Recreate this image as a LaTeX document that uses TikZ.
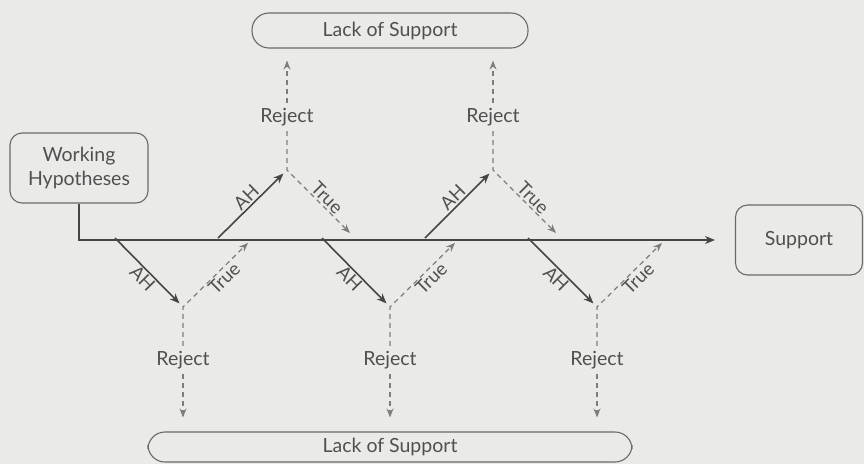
\documentclass[tikz,border=0pt]{standalone}
\usepackage{fontspec}
\setmainfont{Lato}
\usetikzlibrary{arrows.meta}
\definecolor{bg}{RGB}{234,234,232}
\definecolor{txt}{RGB}{80,80,80}
\definecolor{edge}{RGB}{105,105,105}
\definecolor{dark}{RGB}{70,70,70}
\definecolor{dashc}{RGB}{125,125,125}
\begin{document}
\begin{tikzpicture}[x=1pt,y=-1pt,
  font=\fontsize{19.5}{24}\selectfont, text=txt,
  box/.style={draw=edge, line width=1.1pt, rounded corners=12pt, align=center, inner sep=0pt},
  pill/.style={draw=edge, line width=1.1pt, rounded corners=17pt, inner sep=0pt},
  solidarrow/.style={draw=dark, line width=1.6pt, -{Stealth[length=10pt,width=8pt]}},
  dashline/.style={draw=dashc, line width=1.2pt, dash pattern=on 5pt off 4pt},
  dasharrow/.style={dashline, -{Stealth[length=9pt,width=7pt]}},
  lab/.style={font=\fontsize{18.5}{20}\selectfont, sloped, midway, inner sep=1.5pt},
  rej/.style={inner sep=5pt}]
\fill[bg] (0,0) rectangle (864,464);
\useasboundingbox (0,0) rectangle (864,464);

\node[box, minimum width=138pt, minimum height=70pt] (wh) at (79,168) {Working\\Hypotheses};
\node[box, minimum width=127pt, minimum height=70pt] (sup) at (799,240) {Support};
\node[pill, minimum width=276pt, minimum height=35pt] (lt) at (390,30.5) {Lack of Support};
\node[pill, minimum width=484pt, minimum height=30pt] (lb) at (390,447) {Lack of Support};

\draw[solidarrow, shorten >=20pt] (wh.south) |- (sup.west);

% top branches
\coordinate (u1) at (218,238); \coordinate (ta1) at (287,170); \coordinate (te1) at (355,238);
\coordinate (u2) at (425,238); \coordinate (ta2) at (493,170); \coordinate (te2) at (561,238);
% bottom branches
\coordinate (d1) at (115,238); \coordinate (ba1) at (183,307); \coordinate (be1) at (253,238);
\coordinate (d2) at (322,238); \coordinate (ba2) at (390,307); \coordinate (be2) at (460,238);
\coordinate (d3) at (528,238); \coordinate (ba3) at (597,307); \coordinate (be3) at (667,238);

\node[rej] (rt1) at (287,117) {Reject};
\node[rej] (rt2) at (493,117) {Reject};
\node[rej] (rb1) at (183,360) {Reject};
\node[rej] (rb2) at (390,360) {Reject};
\node[rej] (rb3) at (597,360) {Reject};

\foreach \i in {1,2}{
  \draw[solidarrow, shorten >=5pt] (u\i) -- node[lab, above] {AH} (ta\i);
  \draw[dasharrow, shorten >=7pt] (rt\i) -- (ta\i) -- node[lab, above] {True} (te\i);
  \draw[dasharrow, shorten >=12pt] (rt\i) -- (rt\i |- lt.south);
}
\foreach \i in {1,2,3}{
  \draw[solidarrow, shorten >=5pt] (d\i) -- node[lab, below] {AH} (ba\i);
  \draw[dasharrow, shorten >=7pt] (rb\i) -- (ba\i) -- node[lab, below] {True} (be\i);
  \draw[dasharrow, shorten >=14pt] (rb\i) -- (rb\i |- lb.north);
}
\end{tikzpicture}
\end{document}
